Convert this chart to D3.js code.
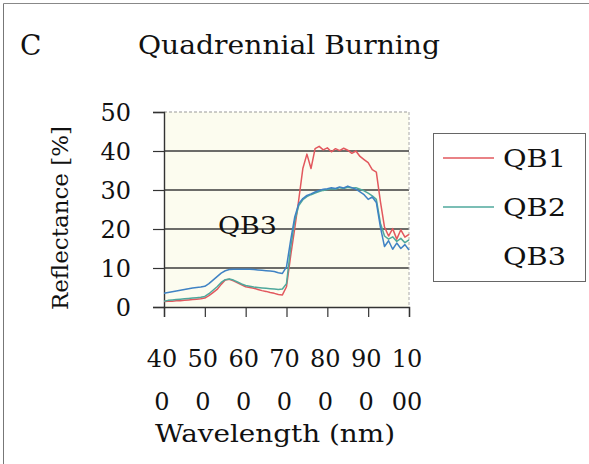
<!DOCTYPE html>
<html>
<head>
<meta charset="utf-8">
<script src="https://cdn.jsdelivr.net/npm/d3@7"></script>
<style>
  body { margin: 0; background: #fff; }
  text { font-family: "DejaVu Serif", "Liberation Serif", serif; fill: #111; }
</style>
</head>
<body>
<svg id="chart" width="589" height="464"></svg>
<script>
// wavelength (nm) of each reading
const wavelengths = [400,410,420,430,440,450,460,470,480,490,
  500,510,520,530,540,550,560,570,580,590,
  600,610,620,630,640,650,660,670,680,690,
  700,710,720,730,740,750,760,770,780,790,
  800,810,820,830,840,850,860,870,880,890,
  900,910,920,930,940,950,960,970,980,990,1000];

// reflectance (%)
const qb1 = [1.4,1.5,1.5,1.6,1.6,1.7,1.8,1.9,2.0,2.1,
  2.3,2.9,3.7,4.5,5.8,6.9,7.1,6.7,6.2,5.7,
  5.2,5.0,4.8,4.5,4.2,4.0,3.7,3.5,3.2,3.1,
  5.2,13,20,27.5,35.5,39.2,35.5,40.6,41.2,40.3,
  40.8,39.8,40.6,40.1,40.7,40.2,39.4,40.0,38.6,37.8,
  37.0,35.2,34.6,27.0,20.5,18.2,20.1,17.4,19.8,17.9,18.6];

const qb2 = [1.5,1.7,1.8,1.9,2.0,2.1,2.2,2.3,2.4,2.5,
  2.7,3.4,4.3,5.2,6.3,7.0,7.2,6.9,6.4,5.9,
  5.5,5.3,5.1,5.0,4.9,4.8,4.7,4.6,4.5,4.6,
  6.0,15,22,26,27.5,28.3,28.8,29.2,29.6,29.9,
  30.1,30.3,30.2,30.6,30.4,30.7,30.5,30.6,30.2,29.8,
  29.2,28.5,27.6,21.5,18.2,17.4,18.0,16.8,17.6,16.5,17.2];

const qb3 = [3.5,3.7,3.9,4.1,4.3,4.5,4.7,4.9,5.0,5.1,
  5.3,6.0,6.9,7.8,8.7,9.3,9.6,9.7,9.7,9.7,
  9.7,9.7,9.6,9.5,9.4,9.3,9.2,9.1,8.8,8.6,
  10.3,17,23,26.5,27.8,28.6,29.0,29.5,29.9,30.2,
  30.3,30.6,30.4,30.8,30.5,31.0,30.6,30.2,29.5,28.8,
  27.6,28.2,26.8,20.5,15.5,17.0,14.8,16.4,15.0,16.0,14.6];

const seriesNames = ["QB1", "QB2", "QB3"];
const seriesColors = ["#e2585e", "#4fa89c", "#3f82c4"];
const xTicks = [400,500,600,700,800,900,1000];
const yTicks = [0,10,20,30,40,50];

const svg = d3.select("#chart");

// page frame (left and top edges visible)
svg.append("line").attr("x1",3.5).attr("y1",3.5).attr("x2",3.5).attr("y2",464)
  .attr("stroke","#777").attr("stroke-width",1);
svg.append("line").attr("x1",3.5).attr("y1",3.5).attr("x2",589).attr("y2",3.5)
  .attr("stroke","#888").attr("stroke-width",1);

const x = d3.scaleLinear().domain([400,1000]).range([164,409]);
const y = d3.scaleLinear().domain([0,50]).range([307,112]);

// plot background
svg.append("rect")
  .attr("x", x(400)).attr("y", y(50))
  .attr("width", x(1000)-x(400)).attr("height", y(0)-y(50))
  .attr("fill", "#fcfcef");

// gridlines
svg.append("g").selectAll("line")
  .data(yTicks.filter(d => d > 0))
  .enter().append("line")
  .attr("x1", x(400)).attr("x2", x(1000))
  .attr("y1", d => y(d)).attr("y2", d => y(d))
  .attr("stroke", d => d == 50 ? "#999" : "#3c3c3c")
  .attr("stroke-width", d => d == 50 ? 1 : 1.4)
  .attr("stroke-dasharray", d => d == 50 ? "3,2" : null);

// right plot edge
svg.append("line")
  .attr("x1", x(1000)).attr("x2", x(1000))
  .attr("y1", y(50)).attr("y2", y(0))
  .attr("stroke", "#aaa").attr("stroke-dasharray", "3,2");

// axes
const yAxis = d3.axisLeft(y).tickValues(yTicks).tickSize(11).tickFormat("");
const xAxis = d3.axisBottom(x).tickValues(xTicks).tickSize(10).tickFormat("");

const gy = svg.append("g").attr("transform", `translate(${x(400)},0)`).call(yAxis);
const gx = svg.append("g").attr("transform", `translate(0,${y(0)})`).call(xAxis);
[gy, gx].forEach(g => {
  g.select(".domain").attr("stroke", "#333").attr("stroke-width", 1.4);
  g.selectAll(".tick line").attr("stroke", "#333").attr("stroke-width", 1.2);
});

// y tick labels
svg.append("g").selectAll("text")
  .data(yTicks)
  .enter().append("text")
  .attr("x", 131).attr("y", d => y(d))
  .attr("dy", "0.36em")
  .attr("text-anchor", "end")
  .style("font-size", "24px")
  .text(d => d);

// x tick labels, wrapped in two lines like the original
const xl = svg.append("g").selectAll("text")
  .data(xTicks)
  .enter().append("text")
  .attr("text-anchor", "middle")
  .style("font-size", "24px");
xl.append("tspan").attr("x", d => x(d) - 2).attr("y", 367)
  .text(d => String(d).slice(0, 2));
xl.append("tspan").attr("x", d => x(d) - 2).attr("y", 410)
  .text(d => String(d).slice(2));

// series
const line = d3.line()
  .x((d, i) => x(wavelengths[i]))
  .y(d => y(d));

[qb1, qb2, qb3].forEach((vals, i) => {
  svg.append("path")
    .datum(vals)
    .attr("d", line)
    .attr("fill", "none")
    .attr("stroke", seriesColors[i])
    .attr("stroke-width", 1.5)
    .attr("stroke-linejoin", "round");
});

// data label for QB3
svg.append("text")
  .attr("x", 218).attr("y", y(20) + 5)
  .attr("textLength", 59).attr("lengthAdjust", "spacingAndGlyphs")
  .style("font-size", "25px")
  .text("QB3");

// titles
svg.append("text").attr("x", 20).attr("y", 55)
  .style("font-size", "28px").text("C");
svg.append("text").attr("x", 138).attr("y", 54)
  .attr("textLength", 302).attr("lengthAdjust", "spacingAndGlyphs")
  .style("font-size", "26px").text("Quadrennial Burning");
svg.append("text").attr("x", 155).attr("y", 442)
  .attr("textLength", 240).attr("lengthAdjust", "spacingAndGlyphs")
  .style("font-size", "24px").text("Wavelength (nm)");
svg.append("text")
  .attr("transform", "translate(68,218) rotate(-90)")
  .attr("text-anchor", "middle")
  .style("font-size", "23px").text("Reflectance [%]");

// legend
const legend = svg.append("g");
legend.append("rect")
  .attr("x", 433.5).attr("y", 133.5)
  .attr("width", 152).attr("height", 148)
  .attr("fill", "#fff").attr("stroke", "#666").attr("stroke-width", 1);

const rows = legend.selectAll("g.row")
  .data(seriesNames)
  .enter().append("g")
  .attr("transform", (d, i) => `translate(0,${158 + i * 49})`);
rows.append("line")
  .attr("x1", 443).attr("x2", 494)
  .attr("stroke", (d, i) => i < 2 ? seriesColors[i] : "none")
  .attr("stroke-width", 1.4);
rows.append("text")
  .attr("x", 503).attr("dy", "0.36em")
  .attr("textLength", 63).attr("lengthAdjust", "spacingAndGlyphs")
  .style("font-size", "25px")
  .text(d => d);
</script>
</body>
</html>
